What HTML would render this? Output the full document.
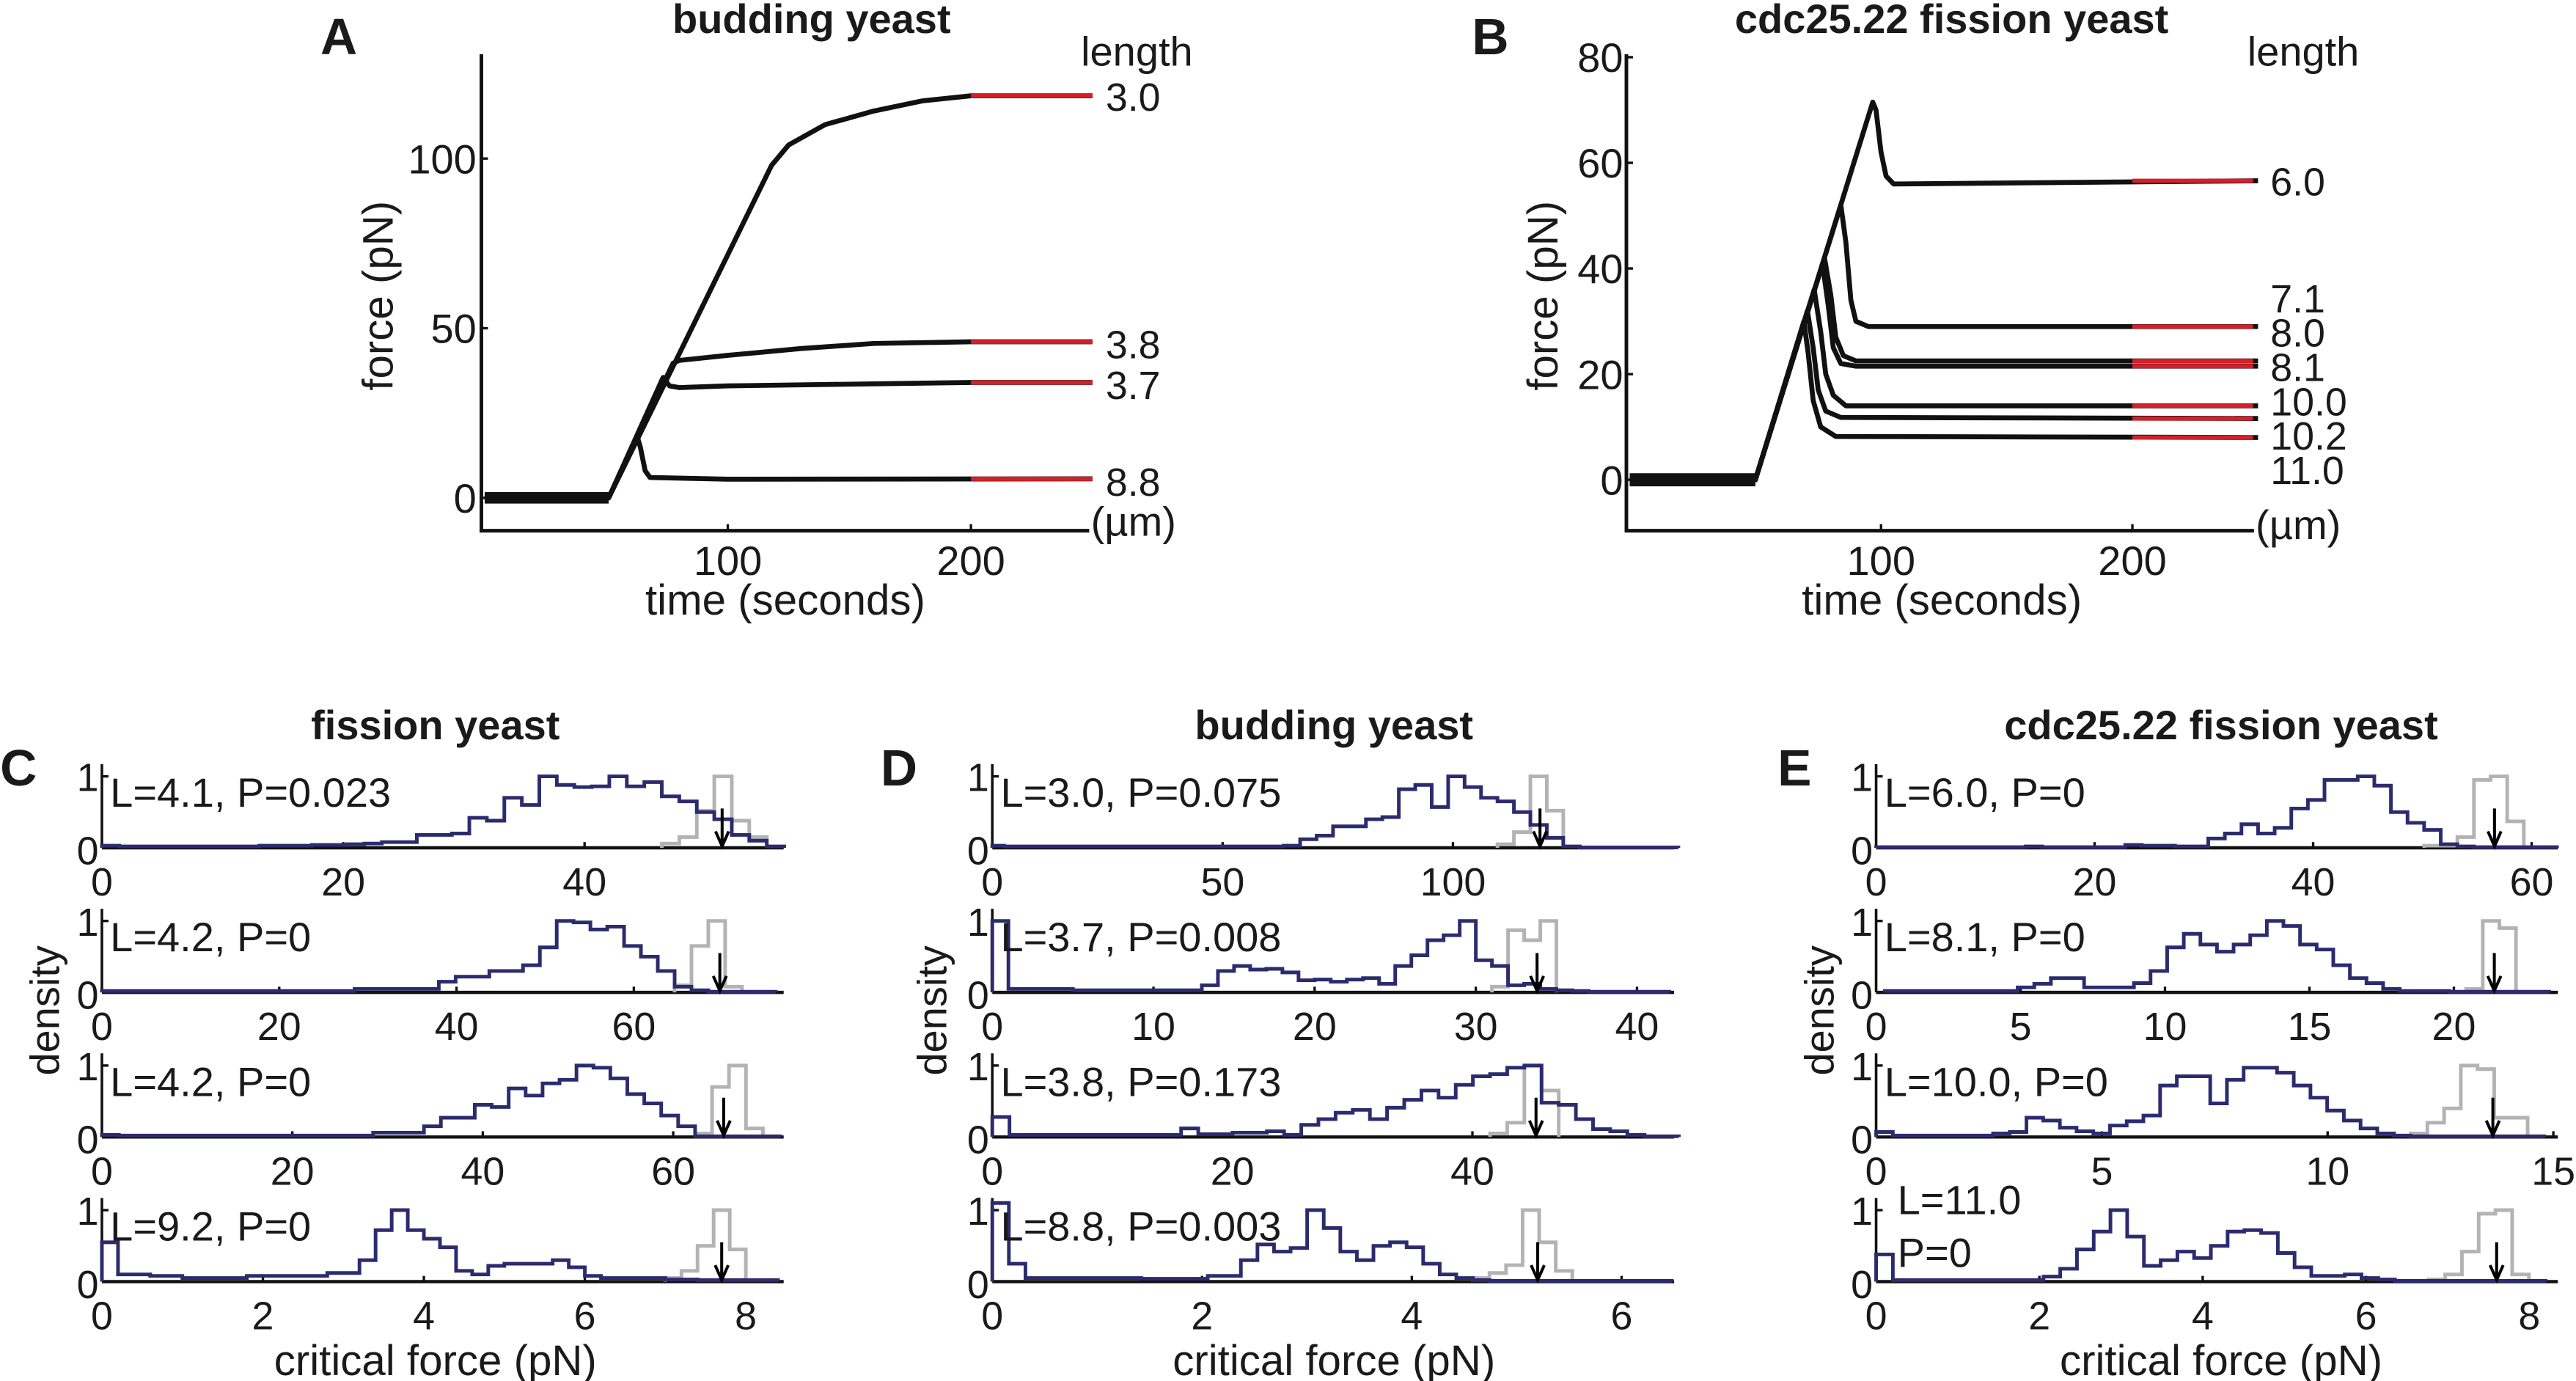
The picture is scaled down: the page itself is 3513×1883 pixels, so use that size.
<!DOCTYPE html>
<html><head><meta charset="utf-8"><style>
html,body{margin:0;padding:0;background:#fff;}
svg{display:block;}
text{font-family:"Liberation Sans",Arial,sans-serif;fill:#1a1a1a;}
</style></head><body>
<svg id="fig" xmlns="http://www.w3.org/2000/svg" width="3513" height="1883" viewBox="0 0 1568 840.5">
<rect x="0" y="0" width="1568" height="840.5" fill="#fff"/>
<g id="topPanels"></g>
<g id="bottomPanels"></g>
</svg>
<script>
// ---------- Panel A data (time s, force pN) ----------
const aLengths = ["3.0","3.8","3.7","8.8"];
const aTrace30 = [[0,0],[51,0],[118,98],[125,104],[140,110],[160,114],[180,117],[200,118.5],[250,118.5]];
const aTrace38 = [[0,0],[51,0],[77.5,39.7],[80,40.5],[100,42],[130,44],[160,45.5],[200,46],[250,46]];
const aTrace37 = [[0,0],[51,0],[73.4,35.5],[76,33],[80,32.5],[100,33],[200,34],[250,34]];
const aTrace88 = [[0,0],[51,0],[62.8,17.9],[64,15],[66,8],[68,6],[100,5.5],[250,5.6]];
const aPlateaus = [118.5,46,34,5.6];
const aLabelForce = [118.5,45.5,33.5,5];
// ---------- Panel B data ----------
const bLengths = ["6.0","7.1","8.0","8.1","10.0","10.2","11.0"];
const bTrace60 = [[0,0],[50,0],[96.7,71.5],[98,70],[100,62],[102,57.5],[105,56],[250,56.6]];
const bTrace71 = [[0,0],[50,0],[84,52],[86,45],[88,34],[90,30],[95,29],[250,29]];
const bTrace80 = [[0,0],[50,0],[77.5,42],[80,35],[82,27],[85,23.5],[90,22.5],[250,22.5]];
const bTrace81 = [[0,0],[50,0],[76.7,40.8],[79,33],[81,25],[84,22],[90,21.5],[250,21.5]];
const bTrace100 = [[0,0],[50,0],[73.4,36],[76,28],[78,20],[81,16],[86,14],[250,14]];
const bTrace102 = [[0,0],[50,0],[70.7,32],[73,25],[75,17],[78,13],[84,11.8],[250,11.6]];
const bTrace110 = [[0,0],[50,0],[69.3,30],[71,24],[73,15],[76,10],[82,8.2],[250,8]];
const bPlateaus = [56.6,29,22.5,21.5,14,11.6,8];
const bLabelForce = [56.6,34.5,28,21.5,15,8.5,2];
const aYTicks = [0,50,100];
const abXTicks = [100,200];
const bYTicks = [0,20,40,60,80];

// ---------- Histogram data (density) ----------
const c1Blue=[0.03,0.02,0.02,0.02,0.02,0.02,0.02,0.02,0.02,0.03,0.03,0.03,0.04,0.04,0.05,0.06,0.08,0.08,0.18,0.18,0.2,0.42,0.38,0.7,0.6,1.0,0.88,0.85,0.86,1.0,0.86,0.92,0.72,0.65,0.5,0.4,0.18,0.1,0.02];
const c1Gray=[0.06,0.15,0.52,1.0,0.38,0.15];
const c2Blue=[0.02,0.02,0.02,0.02,0.02,0.02,0.02,0.02,0.02,0.02,0.02,0.02,0.02,0.02,0.02,0.05,0.05,0.05,0.05,0.05,0.15,0.22,0.22,0.3,0.3,0.38,0.63,1.0,0.98,0.88,0.92,0.65,0.5,0.3,0.08,0.03,0.01,0.01,0.01,0.01];
const c2Gray=[0.1,0.65,1.0,0.08];
const c3Blue=[0.03,0.02,0.02,0.02,0.02,0.02,0.02,0.02,0.02,0.02,0.02,0.02,0.02,0.02,0.02,0.02,0.06,0.06,0.06,0.15,0.27,0.27,0.45,0.42,0.68,0.58,0.75,0.8,1.0,0.97,0.82,0.6,0.47,0.3,0.15,0.01,0.01,0.01,0.01,0.01];
const c3Gray=[0.05,0.7,1.0,0.12];
const c4Blue=[0.55,0.1,0.1,0.08,0.08,0.05,0.05,0.05,0.05,0.08,0.08,0.08,0.08,0.08,0.12,0.12,0.3,0.72,1.0,0.72,0.6,0.48,0.15,0.1,0.22,0.25,0.25,0.25,0.3,0.2,0.08,0.05,0.05,0.05,0.05,0.03,0.03,0.02,0.02,0.02,0.02,0.02];
const c4Gray=[0.05,0.15,0.5,1.0,0.45];
const d1Blue=[0.03,0.02,0.02,0.02,0.02,0.02,0.02,0.02,0.02,0.02,0.02,0.02,0.02,0.02,0.02,0.02,0.02,0.02,0.03,0.12,0.17,0.3,0.3,0.4,0.43,0.82,0.88,0.57,1.0,0.85,0.7,0.65,0.5,0.32,0.14,0.02,0.005,0.005,0.005,0.005,0.005,0.005];
const d1Gray=[0.05,0.22,1.0,0.52];
const d2Blue=[1.0,0.05,0.05,0.05,0.05,0.03,0.03,0.03,0.03,0.03,0.03,0.03,0.03,0.1,0.3,0.37,0.32,0.33,0.28,0.17,0.18,0.15,0.18,0.2,0.12,0.37,0.52,0.73,0.8,1.0,0.45,0.37,0.1,0.12,0.05,0.03,0.02,0.01,0.01,0.01,0.01,0.01];
const d2Gray=[0.08,0.87,0.73,1.0];
const d3Blue=[0.28,0.03,0.03,0.03,0.03,0.03,0.03,0.03,0.03,0.03,0.03,0.12,0.04,0.04,0.06,0.06,0.08,0.03,0.17,0.25,0.34,0.38,0.25,0.41,0.52,0.65,0.55,0.73,0.85,0.88,0.97,1.0,0.48,0.45,0.25,0.11,0.08,0.03,0.01,0.01];
const d3Gray=[0.05,0.2,1.0,0.65];
const d4Blue=[1.1,0.25,0.05,0.05,0.05,0.05,0.05,0.05,0.05,0.04,0.04,0.04,0.04,0.08,0.08,0.3,0.52,0.42,0.47,1.0,0.75,0.42,0.3,0.5,0.55,0.48,0.25,0.1,0.05,0.02,0.01,0.01,0.01,0.01,0.01,0.01,0.01,0.01,0.01,0.01,0.01];
const d4Gray=[0.05,0.12,0.23,1.0,0.55,0.15];
const e1Blue=[0.01,0.01,0.01,0.01,0.01,0.01,0.01,0.01,0.01,0.02,0.01,0.01,0.01,0.01,0.01,0.04,0.03,0.03,0.02,0.02,0.13,0.2,0.33,0.2,0.28,0.55,0.67,0.95,0.95,1.0,0.87,0.5,0.35,0.25,0.05,0.02,0.01,0.01,0.01,0.01,0.01];
const e1Gray=[0.03,0.03,0.15,0.95,1.0,0.37];
const e2Blue=[0.02,0.02,0.02,0.02,0.02,0.02,0.02,0.02,0.07,0.12,0.2,0.2,0.07,0.07,0.07,0.13,0.3,0.63,0.82,0.67,0.57,0.67,0.8,1.0,0.93,0.67,0.6,0.38,0.2,0.13,0.05,0.02,0.02,0.02,0.01,0.01,0.01,0.01,0.01,0.01];
const e2Gray=[0.05,1.0,0.9];
const e3Blue=[0.07,0.02,0.02,0.02,0.02,0.02,0.02,0.05,0.07,0.27,0.23,0.13,0.08,0.05,0.16,0.22,0.3,0.72,0.85,0.85,0.47,0.8,0.97,0.97,0.9,0.72,0.55,0.37,0.23,0.12,0.05,0.02,0.01,0.01,0.01,0.01,0.01,0.01,0.01,0.01];
const e3Gray=[0.05,0.2,0.4,1.0,0.95,0.27,0.27];
const e4Blue=[0.38,0.02,0.02,0.02,0.02,0.02,0.02,0.02,0.02,0.02,0.07,0.18,0.45,0.7,1.0,0.63,0.22,0.3,0.42,0.33,0.5,0.7,0.72,0.68,0.4,0.2,0.08,0.08,0.1,0.05,0.03,0.01,0.01,0.01,0.01,0.01,0.01,0.01,0.01,0.01];
const e4Gray=[0.03,0.1,0.42,0.95,1.0,0.1];
const grayStartBins=[32,34,35,35, 31,31,29,29, 33,35,32,33];
const arrowValues=[51.4,69.7,65.3,7.7, 118.9,33.8,45.3,5.2, 56.6,21.4,13.66,7.6];
const xMaxes=[56.5,76.9,71.6,8.47, 148,42.3,56.8,6.5, 62.4,23.6,15.1,8.35];
const binWidths=[1.45,1.9,1.78,0.2, 3.57,1,1.43,0.158, 1.52,0.575,0.37,0.205];
const binStarts=[0,0,0,0, -1,0,0,0, 0,0.3,0,0];
const xTickLabels=[[0,20,40],[0,20,40,60],[0,20,40,60],[0,2,4,6,8],
 [0,50,100],[0,10,20,30,40],[0,20,40],[0,2,4,6],
 [0,20,40,60],[0,5,10,15,20],[0,5,10,15],[0,2,4,6,8]];
const rowTexts=["L=4.1, P=0.023","L=4.2, P=0","L=4.2, P=0","L=9.2, P=0",
 "L=3.0, P=0.075","L=3.7, P=0.008","L=3.8, P=0.173","L=8.8, P=0.003",
 "L=6.0, P=0","L=8.1, P=0","L=10.0, P=0","L=11.0|P=0"];

const NS="http://www.w3.org/2000/svg";
function mk(tag,attrs,parent){const e=document.createElementNS(NS,tag);for(const k in attrs)e.setAttribute(k,attrs[k]);parent.appendChild(e);return e;}
function txt(s,x,y,size,parent,anchor,weight){const t=mk('text',{x:x,y:y,'font-size':size,'text-anchor':anchor||'start','font-weight':weight||'normal'},parent);t.textContent=s;return t;}

const topG=document.getElementById('topPanels');
// ---------- Panel A ----------
(function(){
 const g=mk('g',{},topG);
 
 
 const L=293,R=663,B=323,T=33;
 const xs=t=>295+1.48*t, ys=f=>303-2.065*f;
 const lA=txt("A",195,33,31,g,'start','bold');
 
 
 const ti=txt("budding yeast",494,20,25,g,'middle','bold');
 
 
 const traces=[aTrace30,aTrace38,aTrace37,aTrace88];
 traces.forEach((tr,i)=>{
  const p=mk('polyline',{points:tr.map(d=>xs(d[0])+','+ys(d[1])).join(' '),fill:'none',stroke:'#111','stroke-width':3,'stroke-linejoin':'round'},g);
  
  
 });
 const base=mk('line',{x1:xs(0),y1:ys(0),x2:xs(51),y2:ys(0),stroke:'#111','stroke-width':7},g);
 
 
 aPlateaus.forEach((f,i)=>{
  const r=mk('line',{x1:xs(200),y1:ys(f),x2:xs(250),y2:ys(f),stroke:'#d3202a','stroke-width':2.6},g);
  
  
  const t=txt(aLengths[i],673,ys(aLabelForce[i])+9,24,g);
  
  
 });
 let t=txt("length",692,40,25,g,'middle');
 t=txt("(µm)",664,326,25,g);
 const ax=mk('path',{d:`M${L},${T} L${L},${B} L${R},${B}`,fill:'none',stroke:'#111','stroke-width':2.2},g);
 
 aYTicks.forEach(v=>{mk('line',{x1:L,y1:ys(v),x2:L+4,y2:ys(v),stroke:'#111','stroke-width':1.5},g);
  const tt=txt(String(v),290,ys(v)+9,25,g,'end');});
 abXTicks.forEach(v=>{mk('line',{x1:xs(v),y1:B,x2:xs(v),y2:B-4,stroke:'#111','stroke-width':1.5},g);
  const tt=txt(String(v),xs(v),350,25,g,'middle');});
 t=txt("time (seconds)",478,374,26,g,'middle');
 t=txt("force (pN)",0,0,26,g,'middle');t.setAttribute('transform','translate(239,180) rotate(-90)');
})();
// ---------- Panel B ----------
(function(){
 const g=mk('g',{},topG);
 
 
 const L=990,R=1372,B=323,T=33;
 const xs=t=>992+1.53*t, ys=f=>292-3.215*f;
 let t=txt("B",896,33,31,g,'start','bold');
 t=txt("cdc25.22 fission yeast",1188,20,25,g,'middle','bold');
 const traces=[bTrace60,bTrace71,bTrace80,bTrace81,bTrace100,bTrace102,bTrace110];
 traces.forEach((tr,i)=>{
  const p=mk('polyline',{points:tr.map(d=>xs(d[0])+','+ys(d[1])).join(' '),fill:'none',stroke:'#111','stroke-width':3,'stroke-linejoin':'round'},g);
  
  
 });
 const base=mk('line',{x1:xs(0),y1:ys(0),x2:xs(50),y2:ys(0),stroke:'#111','stroke-width':8},g);
 
 bPlateaus.forEach((f,i)=>{
  const r=mk('line',{x1:xs(200),y1:ys(f),x2:xs(248),y2:ys(f),stroke:'#d3202a','stroke-width':2.6},g);
  
  
  const tt=txt(bLengths[i],1382,ys(bLabelForce[i])+9,24,g);
  
  
 });
 t=txt("length",1402,40,25,g,'middle');
 t=txt("(µm)",1373,328,25,g);
 const ax=mk('path',{d:`M${L},${T} L${L},${B} L${R},${B}`,fill:'none',stroke:'#111','stroke-width':2.2},g);
 
 bYTicks.forEach(v=>{mk('line',{x1:L,y1:ys(v),x2:L+4,y2:ys(v),stroke:'#111','stroke-width':1.5},g);
  const tt=txt(String(v),988,ys(v)+9,25,g,'end');});
 abXTicks.forEach(v=>{mk('line',{x1:xs(v),y1:B,x2:xs(v),y2:B-4,stroke:'#111','stroke-width':1.5},g);
  const tt=txt(String(v),xs(v),350,25,g,'middle');});
 t=txt("time (seconds)",1182,374,26,g,'middle');
 t=txt("force (pN)",0,0,26,g,'middle');t.setAttribute('transform','translate(948,180) rotate(-90)');
})();

// ---------- Histograms ----------
const bottomG=document.getElementById('bottomPanels');
const blues=[c1Blue,c2Blue,c3Blue,c4Blue,d1Blue,d2Blue,d3Blue,d4Blue,e1Blue,e2Blue,e3Blue,e4Blue];
const grays=[c1Gray,c2Gray,c3Gray,c4Gray,d1Gray,d2Gray,d3Gray,d4Gray,e1Gray,e2Gray,e3Gray,e4Gray];
const panelLefts=[62,604,1142], panelW=415, rowAxisY=[516,604,692,780], dens=43.5;
const panelTitles=["fission yeast","budding yeast","cdc25.22 fission yeast"];
const panelTitleX=[265,812,1352], letters=["C","D","E"], letterX=[0,536,1082], densX=[28,568,1108];
function stepPath(heights,start,w,sx,sy,first){
 let x=Math.max(0,start+first*w);
 let d=`M${sx(x)},${sy(0)}`;
 heights.forEach((h,i)=>{
  const a=Math.max(0,start+(first+i)*w), b=start+(first+i+1)*w;
  d+=` L${sx(a)},${sy(h)} L${sx(b)},${sy(h)}`;
 });
 d+=` L${sx(start+(first+heights.length)*w)},${sy(0)}`;
 return d;
}
for(let p=0;p<3;p++){
 const pg=mk('g',{},bottomG);
 
 
 let t=txt(letters[p],letterX[p],478,31,pg,'start','bold');
 t=txt(panelTitles[p],panelTitleX[p],450,25,pg,'middle','bold');
 t=txt("density",0,0,25,pg,'middle');t.setAttribute('transform',`translate(${densX[p]+8},615) rotate(-90)`);
 t=txt("critical force (pN)",panelTitleX[p],837,26,pg,'middle');
 for(let r=0;r<4;r++){
  const k=p*4+r, L=panelLefts[p], Y=rowAxisY[r], mx=xMaxes[k];
  const sx=v=>L+v/mx*panelW, sy=h=>Y-h*dens;
  const g=mk('g',{},pg);
  
  
  const xa=mk('line',{x1:L,y1:Y,x2:L+panelW,y2:Y,stroke:'#111','stroke-width':2},g);
  
  const ya=mk('line',{x1:L,y1:Y,x2:L,y2:Y-1.17*dens,stroke:'#111','stroke-width':1.6},g);
  
  mk('line',{x1:L,y1:sy(1),x2:L+4,y2:sy(1),stroke:'#111','stroke-width':1.5},g);
  t=txt("1",L-2,sy(1)+9,24,g,'end');
  t=txt("0",L-2,Y+10,24,g,'end');
  xTickLabels[k].forEach(v=>{
   if(v>0) mk('line',{x1:sx(v),y1:Y,x2:sx(v),y2:Y-3.5,stroke:'#111','stroke-width':1.5},g);
   const tt=txt(String(v),sx(v),Y+29,24,g,'middle');
   
   
  });
  const gp=mk('path',{d:stepPath(grays[k],binStarts[k],binWidths[k],sx,sy,grayStartBins[k]),fill:'none',stroke:'#b3b3b3','stroke-width':2.2},g);
  
  const bp=mk('path',{d:stepPath(blues[k],binStarts[k],binWidths[k],sx,sy,0),fill:'none',stroke:'#2c2b6e','stroke-width':2.2},g);
  
  const ax=sx(arrowValues[k]);
  const ar=mk('path',{d:`M${ax},${sy(0.55)} L${ax},${Y-1} M${ax-4},${Y-10} L${ax},${Y-1} L${ax+4},${Y-10}`,fill:'none',stroke:'#000','stroke-width':1.8},g);
  
  const parts=rowTexts[k].split('|');
  if(parts.length===1){
   t=txt(parts[0],L+5,Y-25,25,g);
  } else {
   t=txt(parts[0],L+13,Y-41,25,g);
   t=txt(parts[1],L+13,Y-9,25,g);
  }
 }
}
</script>
</body></html>
